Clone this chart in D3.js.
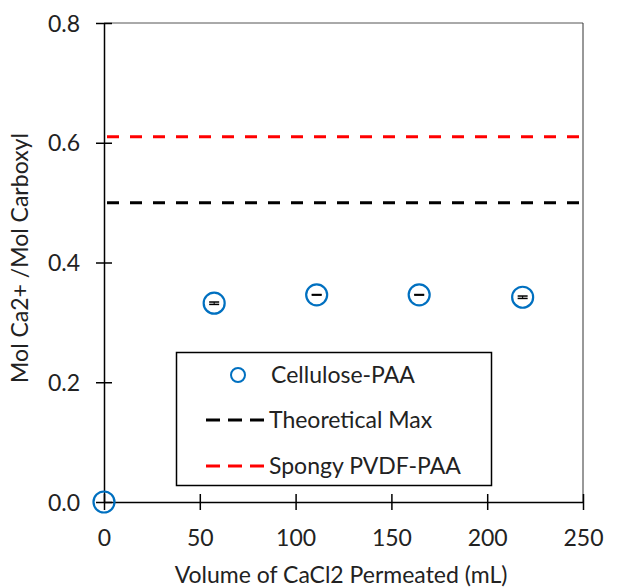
<!DOCTYPE html>
<html><head><meta charset="utf-8">
<script src="https://cdn.jsdelivr.net/npm/d3@7"></script>
<style>body{margin:0;background:#fff}text{font-family:Lato,"Open Sans",sans-serif;fill:#222}</style>
</head><body><svg id="c" width="624" height="587"></svg>
<script>
const volume = [0, 57.5, 111, 164.5, 218.5];
const ratio = [0, 0.332, 0.346, 0.346, 0.342];
const ratioErr = [0, 0.002, 0.0005, 0.0005, 0.002];
const theoreticalMax = 0.5;
const spongyPVDF = 0.61;
const xTicks = [0, 50, 100, 150, 200, 250];
const yTicks = [0, 0.2, 0.4, 0.6, 0.8];
const seriesNames = ["Cellulose-PAA", "Theoretical Max", "Spongy PVDF-PAA"];

const svg = d3.select("#c");
const x = d3.scaleLinear().domain([0, 250]).range([104, 583]);
const y = d3.scaleLinear().domain([0, 0.8]).range([502, 23]);
const blue = "#0070C0";
const FS = 23;

// frame top/right
svg.append("line").attr("x1",104).attr("x2",583).attr("y1",23).attr("y2",23).attr("stroke","#555").attr("stroke-width",1);
svg.append("line").attr("x1",583).attr("x2",583).attr("y1",23).attr("y2",502).attr("stroke","#333").attr("stroke-width",1);

// reference lines
const dash = "12,11";
svg.append("line").attr("x1",x(0)+3).attr("x2",x(250)).attr("y1",y(spongyPVDF)).attr("y2",y(spongyPVDF))
  .attr("stroke","#FF0000").attr("stroke-width",3).attr("stroke-dasharray",dash);
svg.append("line").attr("x1",x(0)+3).attr("x2",x(250)).attr("y1",y(theoreticalMax)).attr("y2",y(theoreticalMax))
  .attr("stroke","#000").attr("stroke-width",3).attr("stroke-dasharray",dash);

// axes
const xAxis = d3.axisBottom(x).tickValues(xTicks).tickSize(0).tickFormat(d3.format("d"));
const gx = svg.append("g").attr("transform","translate(0,502)").call(xAxis);
gx.select(".domain").attr("stroke","#000").attr("stroke-width",1.5);
gx.selectAll(".tick text").attr("font-size",FS).attr("font-family","Lato").attr("fill","#222").attr("dy","0.35em").attr("y",36);
gx.selectAll(".tick").append("line").attr("y1",-8).attr("y2",8).attr("stroke","#000").attr("stroke-width",1.5);

const yAxis = d3.axisLeft(y).tickValues(yTicks).tickSize(0).tickFormat(d3.format(".1f"));
const gy = svg.append("g").attr("transform","translate(104,0)").call(yAxis);
gy.select(".domain").attr("stroke","#000").attr("stroke-width",1.5);
gy.selectAll(".tick text").attr("font-size",FS).attr("font-family","Lato").attr("fill","#222").attr("x",-24).attr("dy","0.35em");
gy.selectAll(".tick").append("line").attr("x1",-8).attr("x2",8).attr("stroke","#000").attr("stroke-width",1.5);

// error bars
const pts = volume.map((v,i)=>({v, r: ratio[i], e: ratioErr[i]}));
const eb = svg.append("g");
pts.filter(d=>d.e>0).forEach(d=>{
  eb.append("line").attr("x1",x(d.v)).attr("x2",x(d.v)).attr("y1",y(d.r+d.e)).attr("y2",y(d.r-d.e)).attr("stroke","#000").attr("stroke-width",1);
  [d.r+d.e, d.r-d.e].forEach(v=>eb.append("line").attr("x1",x(d.v)-5).attr("x2",x(d.v)+5).attr("y1",y(v)).attr("y2",y(v)).attr("stroke","#000").attr("stroke-width",1.5));
});
svg.append("g").selectAll("circle").data(pts).join("circle")
  .attr("cx",d=>x(d.v)).attr("cy",d=>y(d.r)).attr("r",10.5)
  .attr("fill","none").attr("stroke",blue).attr("stroke-width",2.2);

// legend
const lg = svg.append("g");
lg.append("rect").attr("x",176.5).attr("y",352.5).attr("width",315).attr("height",133).attr("fill","#fff").attr("stroke","#000").attr("stroke-width",1.5);
lg.append("circle").attr("cx",238).attr("cy",375).attr("r",7).attr("fill","none").attr("stroke",blue).attr("stroke-width",2);
lg.append("line").attr("x1",206).attr("x2",264).attr("y1",420).attr("y2",420).attr("stroke","#000").attr("stroke-width",3).attr("stroke-dasharray","14,8");
lg.append("line").attr("x1",206).attr("x2",264).attr("y1",466).attr("y2",466).attr("stroke","#FF0000").attr("stroke-width",3).attr("stroke-dasharray","14,8");
[375,420,466].forEach((yy,i)=>lg.append("text").attr("x",i===0?271:269).attr("y",yy).attr("dy","0.35em").attr("font-size",FS).text(seriesNames[i]));

// axis titles
svg.append("text").attr("x",341).attr("y",583).attr("text-anchor","middle").attr("font-size",FS).text("Volume of CaCl2 Permeated (mL)");
svg.append("text").attr("transform","translate(28,258) rotate(-90)").attr("text-anchor","middle").attr("font-size",FS).text("Mol Ca2+ /Mol Carboxyl");
</script></body></html>
